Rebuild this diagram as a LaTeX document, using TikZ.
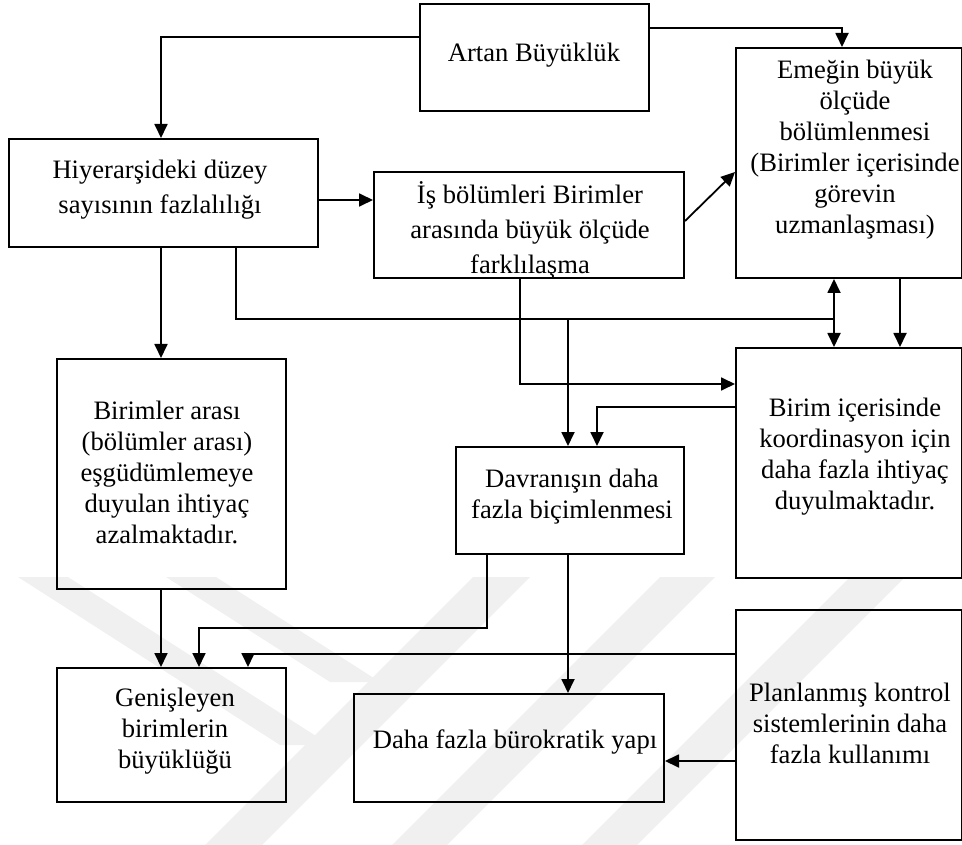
\documentclass[tikz,border=0pt]{standalone}
\usepackage{fontspec}
\setmainfont{Liberation Serif}
\usetikzlibrary{arrows.meta,calc}

\begin{document}
\begin{tikzpicture}[x=1pt,y=-1pt,
  box/.style={draw=black,line width=2pt,inner sep=0pt,anchor=north west},
  lbl/.style={align=center,inner sep=0pt,font=\fontsize{26.6}{31}\selectfont},
  lblw/.style={align=center,inner sep=0pt,font=\fontsize{26.6}{35}\selectfont},
  conn/.style={line width=1.8pt},
  arr/.style={conn,-{Triangle[length=14pt,width=13pt]}},
  dbl/.style={conn,{Triangle[length=14pt,width=13pt]}-{Triangle[length=14pt,width=13pt]}},
  wmark/.style={fill=black!6}
]
\useasboundingbox (0,0) rectangle (962,845);

% faint background emblem
\fill[wmark] (18,577) -- (68,577) -- (330,745) -- (280,745) -- cycle;
\fill[wmark] (166,577) -- (216,577) -- (380,682) -- (330,682) -- cycle;
\fill[wmark] (473,577) -- (530,577) -- (262,845) -- (205,845) -- cycle;
\fill[wmark] (660,577) -- (715,577) -- (447,845) -- (392,845) -- cycle;
\fill[wmark] (850,577) -- (905,577) -- (637,845) -- (582,845) -- cycle;

% boxes
\node[box,minimum width=229pt,minimum height=107pt] (A) at (419,3) {};
\node[box,minimum width=309pt,minimum height=108pt] (H) at (8,138) {};
\node[box,minimum width=310pt,minimum height=106pt] (I) at (373,171) {};
\node[box,minimum width=226pt,minimum height=230pt] (E) at (735,47) {};
\node[box,minimum width=229pt,minimum height=230pt] (B) at (56,358) {};
\node[box,minimum width=228pt,minimum height=107pt] (D) at (455,446) {};
\node[box,minimum width=226pt,minimum height=230pt] (C) at (735,347) {};
\node[box,minimum width=229pt,minimum height=134pt] (G) at (56,667) {};
\node[box,minimum width=310pt,minimum height=108pt] (R) at (353,693) {};
\node[box,minimum width=226pt,minimum height=230pt] (P) at (735,609) {};

% texts
\node[lbl] (tA) at (534,55) {Artan Büyüklük};
\node[lblw] (tH) at (160,190) {Hiyerarşideki düzey\\sayısının fazlalılığı};
\node[lblw] (tI) at (530,230) {İş bölümleri Birimler\\arasında büyük ölçüde\\farklılaşma};
\node[lbl] (tE) at (855,150) {Emeğin büyük\\ölçüde\\bölümlenmesi\\(Birimler içerisinde\\görevin\\uzmanlaşması)};
\node[lbl] (tB) at (167,472) {Birimler arası\\(bölümler arası)\\eşgüdümlemeye\\duyulan ihtiyaç\\azalmaktadır.};
\node[lbl] (tD) at (572,497) {Davranışın daha\\fazla biçimlenmesi};
\node[lbl] (tC) at (855,457) {Birim içerisinde\\koordinasyon için\\daha fazla ihtiyaç\\duyulmaktadır.};
\node[lbl] (tG) at (175,731) {Genişleyen\\birimlerin\\büyüklüğü};
\node[lbl] (tR) at (515,742) {Daha fazla bürokratik yapı};
\node[lbl] (tP) at (850,723) {Planlanmış kontrol\\sistemlerinin daha\\fazla kullanımı};

% connectors
\coordinate (jA) at (161,37);
\draw[arr] (A.west |- jA) -| (H.north -| jA);
\coordinate (jB) at (842,28);
\draw[arr] (A.east |- jB) -| (E.north -| jB);
\coordinate (jC) at (0,200);
\draw[arr] (H.east |- jC) -- (I.west |- jC);
\coordinate (jD1) at (0,221);
\coordinate (jD2) at (0,172);
\draw[arr] (I.east |- jD1) -- (E.west |- jD2);
\draw[arr] (H.south -| jA) -- (B.north -| jA);
\coordinate (jE) at (236,319);
\coordinate (jF) at (834,319);
\draw[conn] (H.south -| jE) |- (jF);
\draw[dbl] (E.south -| jF) -- (C.north -| jF);
\coordinate (jG) at (568,319);
\draw[arr] (jG) -- (D.north -| jG);
\coordinate (jH) at (900,0);
\draw[arr] (E.south -| jH) -- (C.north -| jH);
\coordinate (jI) at (520,384);
\draw[arr] (I.south -| jI) |- (C.west |- jI);
\coordinate (jJ) at (597,407);
\draw[arr] (C.west |- jJ) -| (D.north -| jJ);
\draw[arr] (D.south -| jG) -- (R.north -| jG);
\coordinate (jK) at (487,628);
\coordinate (jL) at (199,628);
\draw[arr] (D.south -| jK) |- (jL) -- (G.north -| jL);
\draw[arr] (B.south -| jA) -- (G.north -| jA);
\coordinate (jM) at (248,654);
\draw[arr] (P.west |- jM) -| (G.north -| jM);
\coordinate (jN) at (0,761);
\draw[arr] (P.west |- jN) -- (R.east |- jN);
\end{tikzpicture}
\end{document}
